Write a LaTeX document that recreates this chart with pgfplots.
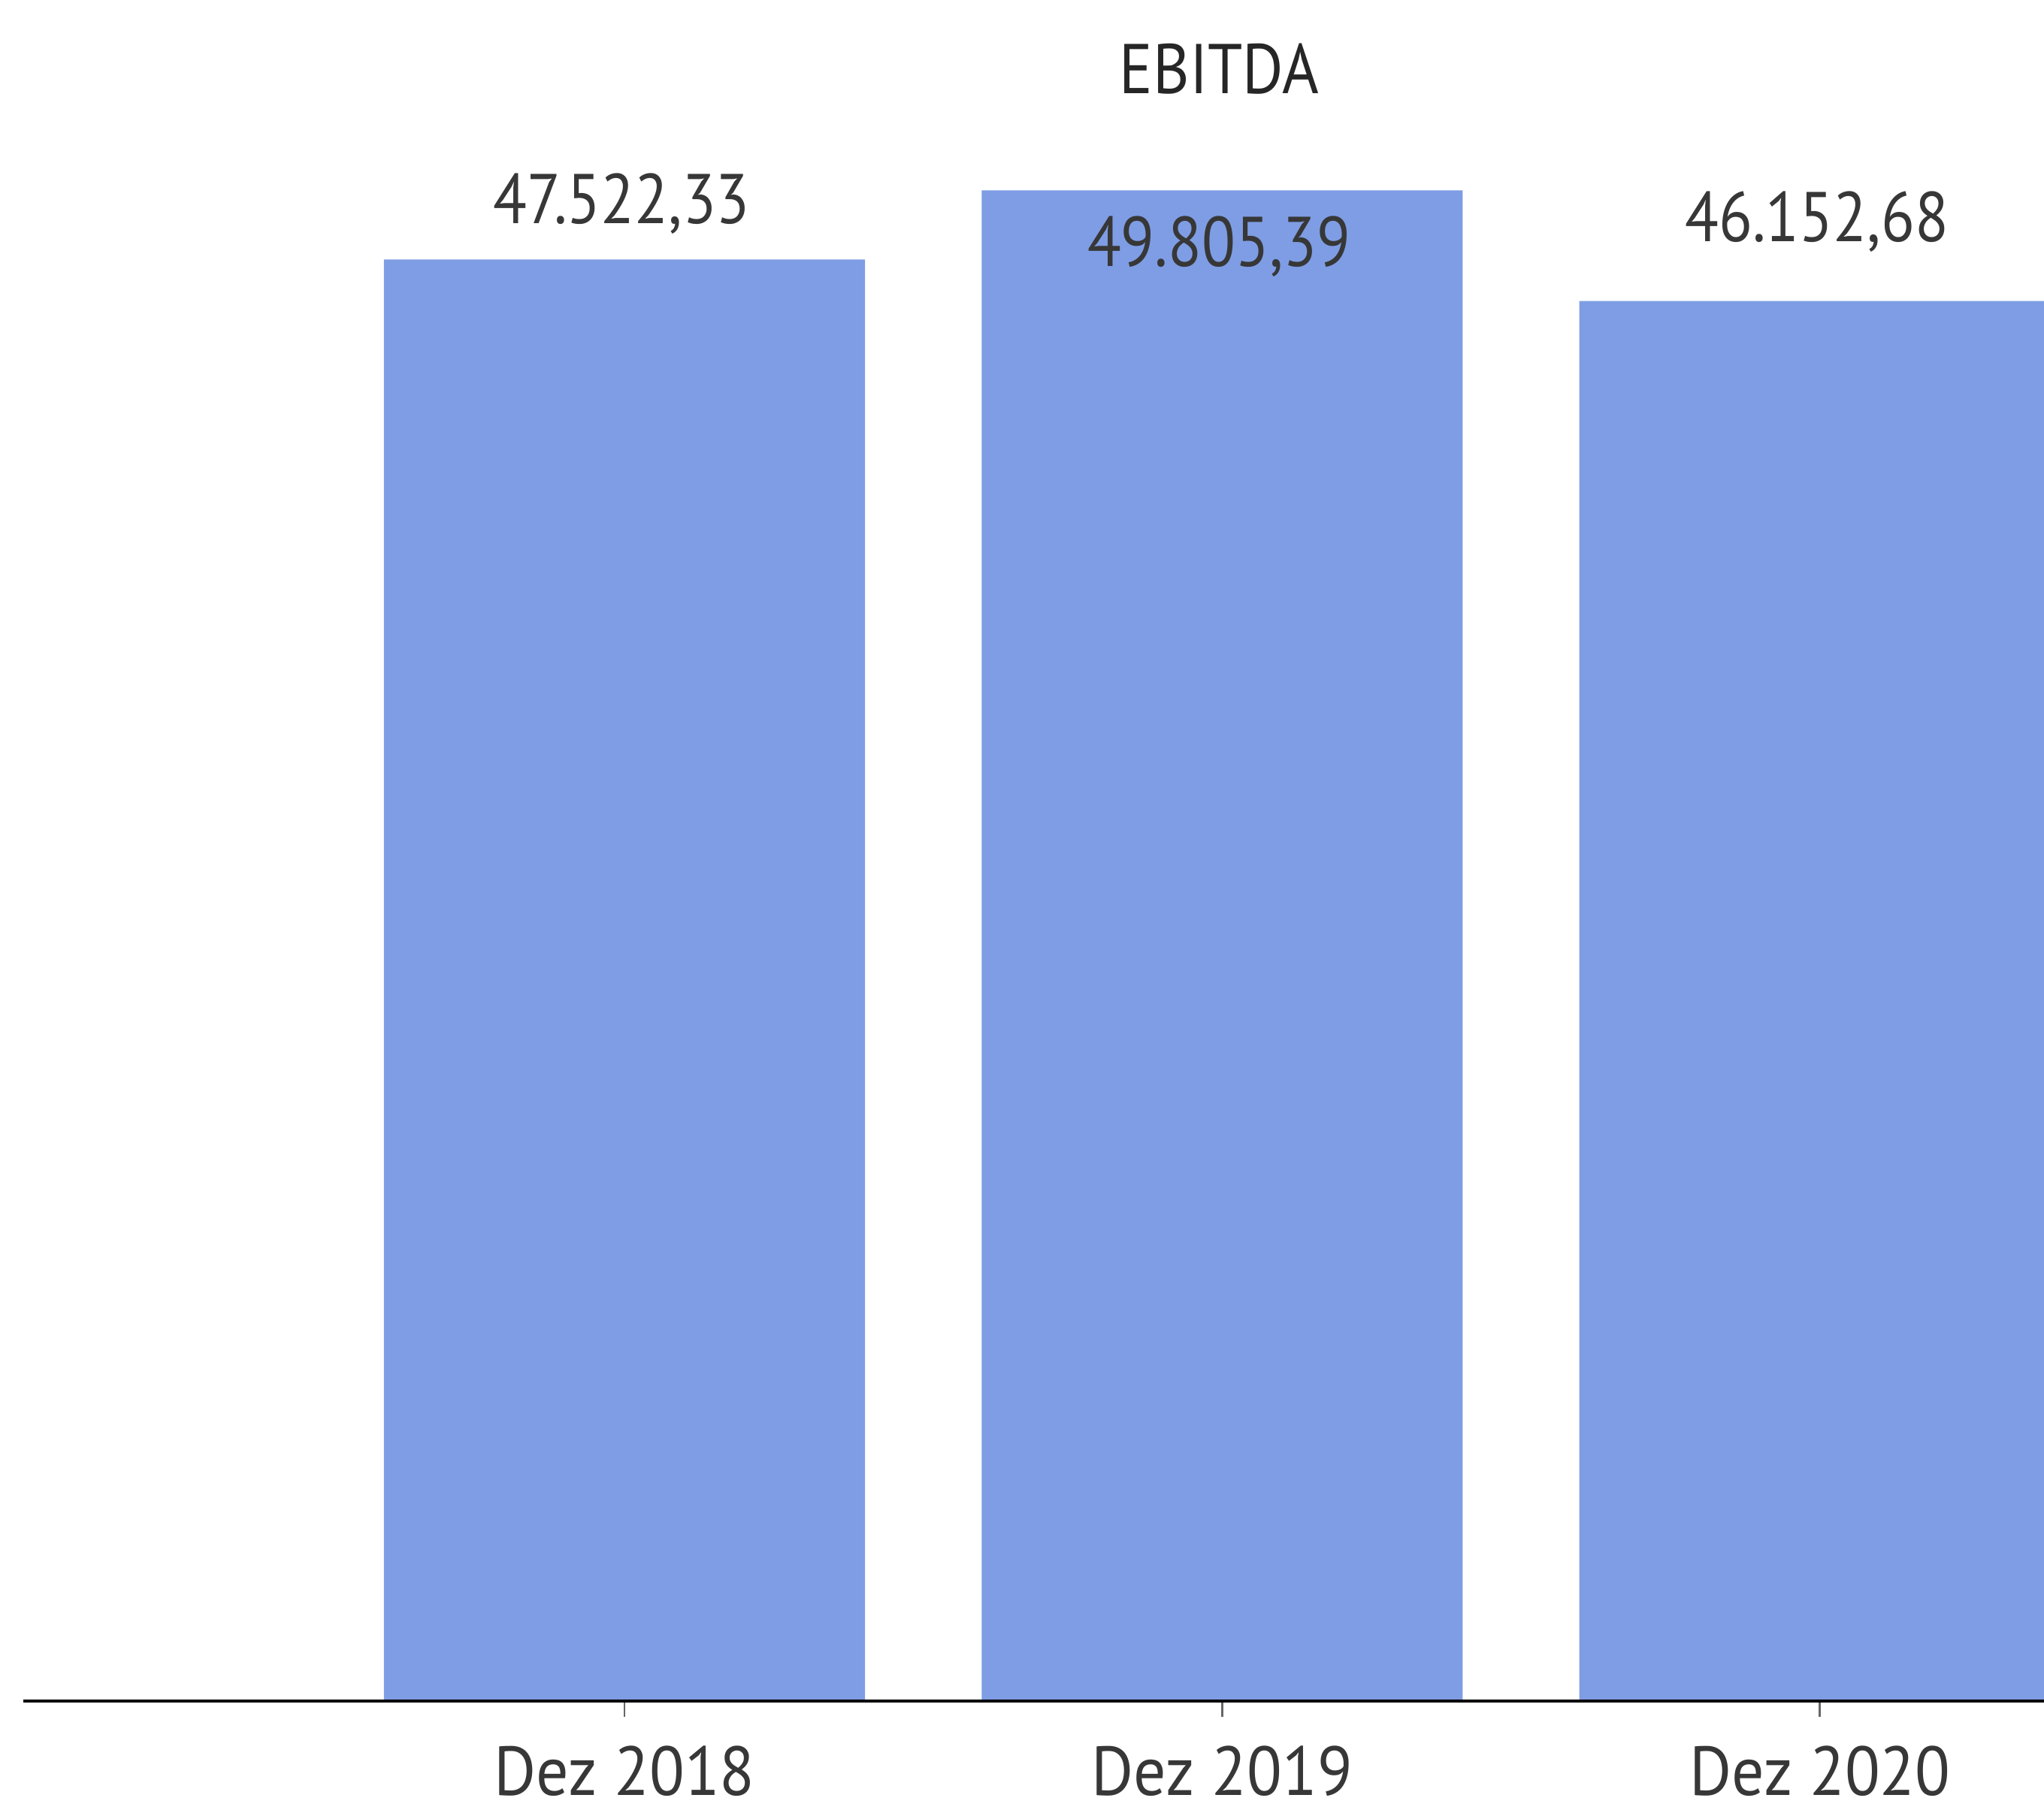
\documentclass[border=0pt]{standalone}
\usepackage{pgfplots}
\pgfplotsset{compat=1.18}
\usepackage{fontspec}
\setmainfont{PT Sans}
\definecolor{barblue}{RGB}{126,157,228}
\definecolor{txt}{RGB}{55,55,55}
\begin{document}
\begin{tikzpicture}
\begin{axis}[name=ax, scale only axis, width=387.5pt, height=326.25pt,
  xmin=-1.0055, xmax=2.375, ymin=0, ymax=56080,
  axis x line*=bottom, axis y line=none,
  xtick={0,1,2}, xticklabels={Dez 2018, Dez 2019, Dez 2020},
  tick align=outside, major tick length=3pt,
  x tick style={black!60, line width=0.4pt},
  xticklabel style={font=\fontsize{13.3}{15}\selectfont, text=txt, anchor=center, yshift=-10.5pt, xscale=0.93, transform shape},
  x axis line style={black, line width=0.6pt},
  axis on top,
  ybar, bar width=92.25pt,
]
\addplot[fill=barblue, draw=none] coordinates {(0,47522.33) (1,49805.39) (2,46152.68)};
\node[font=\fontsize{13.5}{15}\selectfont, text=txt] at (axis cs:-0.005,47522.33) [yshift=10.75pt] {\scalebox{0.88}[1]{47.522,33}};
\node[font=\fontsize{13.5}{15}\selectfont, text=txt] at (axis cs:0.995,49805.39) [yshift=-10.75pt] {\scalebox{0.88}[1]{49.805,39}};
\node[font=\fontsize{13.5}{15}\selectfont, text=txt] at (axis cs:1.995,46152.68) [yshift=15.25pt] {\scalebox{0.88}[1]{46.152,68}};
\node[font=\fontsize{13.5}{15}\selectfont, text=black!85] at (axis cs:0.995,53800) {\scalebox{0.89}[1]{EBITDA}};
\end{axis}
\pgfresetboundingbox
\useasboundingbox ([xshift=-4.5pt,yshift=-22pt]ax.south west) rectangle (ax.north east);
\end{tikzpicture}
\end{document}
